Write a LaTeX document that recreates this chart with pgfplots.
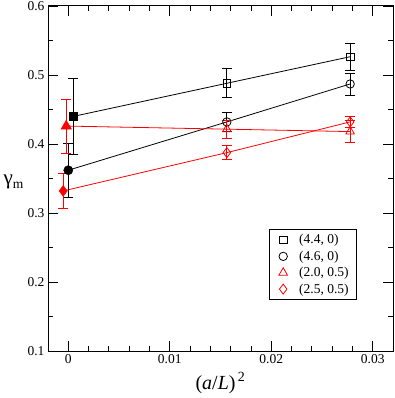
\documentclass[border=0pt]{standalone}
\usepackage{fontspec}
\setmainfont{Liberation Serif}
\usepackage{pgfplots}
\pgfplotsset{compat=1.18}

\begin{document}
\begin{tikzpicture}
\useasboundingbox (0,0) rectangle (395pt,398pt);
\begin{axis}[
  at={(48pt,47pt)}, anchor=south west,
  scale only axis, width=345pt, height=345pt,
  xmin=-0.002, xmax=0.032, ymin=0.1, ymax=0.6,
  xtick={0,0.01,0.02,0.03}, ytick={0.1,0.2,0.3,0.4,0.5,0.6},
  minor x tick num=4, minor y tick num=1,
  tick align=inside, tick pos=both,
  major tick length=10pt, minor tick length=5pt,
  axis line style={line width=1pt}, every tick/.style={line width=0.8pt, black},
  scaled x ticks=false,
  xticklabel style={/pgf/number format/fixed, /pgf/number format/precision=3},
  yticklabel style={/pgf/number format/fixed, /pgf/number format/precision=1,
    /pgf/number format/fixed zerofill},
  /pgf/number format/assume math mode=true,
  tick label style={font=\fontsize{13.5}{15}\selectfont},
  xlabel={(\textit{a}/\textit{L})\textsuperscript{\,2}},
  xlabel style={font=\fontsize{20}{22}\selectfont, at={(axis description cs:0.5,0)}, anchor=north, yshift=-18pt},
  ylabel={γ\raisebox{-0.45ex}{\fontsize{13.5}{13.5}\selectfont m}},
  ylabel style={font=\fontsize{21}{22}\selectfont, rotate=-90, anchor=center, at={(axis description cs:-0.1,0.49)}},
  legend style={at={(0.64,0.148)}, anchor=south west, draw=black, line width=0.8pt,
    font=\fontsize{13.5}{15}\selectfont, row sep=1.5pt, column sep=6pt,
    inner xsep=6pt, inner ysep=3pt},
  legend image code/.code={\path[draw=none, fill=none] (-8pt,-4pt) rectangle (8pt,4pt);
    \draw[#1] plot coordinates {(0pt,0pt)};},
  legend cell align=left,
  error bars/error bar style={line width=0.8pt},
  error bars/error mark options={rotate=90, mark size=5pt, line width=0.8pt},
]
% fit lines
\addplot[black, line width=0.8pt, forget plot] coordinates {(0.0005,0.440) (0.015625,0.488) (0.027778,0.5265)};
\addplot[black, line width=0.8pt, forget plot] coordinates {(0.0,0.362) (0.015625,0.432) (0.027778,0.487)};
\addplot[red, line width=0.8pt, forget plot] coordinates {(-0.0002,0.426) (0.015625,0.4215) (0.027778,0.418)};
\addplot[red, line width=0.8pt, forget plot] coordinates {(-0.0005,0.332) (0.015625,0.3875) (0.027778,0.432)};

% data points
\addplot[black, only marks, mark=square, mark size=3.8pt, mark options={line width=0.8pt},
  error bars/.cd, y dir=both, y explicit] coordinates {
  (0.015625,0.488) +- (0,0.021)
  (0.027778,0.5265) +- (0,0.020)};
\addlegendentry{(4.4, 0)}
\addplot[black, only marks, mark=o, mark size=4.2pt, mark options={line width=0.8pt},
  error bars/.cd, y dir=both, y explicit] coordinates {
  (0.015625,0.432) +- (0,0.014)
  (0.027778,0.487) +- (0,0.016)};
\addlegendentry{(4.6, 0)}
\addplot[red, only marks, mark=triangle, mark size=5pt, mark options={line width=0.8pt},
  error bars/.cd, y dir=both, y explicit] coordinates {
  (0.015625,0.4215) +- (0,0.013)
  (0.027778,0.418) +- (0,0.016)};
\addlegendentry{(2.0, 0.5)}
\addplot[red, only marks, mark=diamond, mark size=5pt, mark options={line width=0.8pt},
  error bars/.cd, y dir=both, y explicit] coordinates {
  (0.015625,0.3875) +- (0,0.010)
  (0.027778,0.432) +- (0,0.008)};
\addlegendentry{(2.5, 0.5)}

% extrapolated points
\addplot[black, only marks, mark=square*, mark size=4.3pt, forget plot,
  error bars/.cd, y dir=both, y explicit] coordinates {(0.0005,0.440) +- (0,0.055)};
\addplot[black, only marks, mark=*, mark size=4.6pt, forget plot,
  error bars/.cd, y dir=both, y explicit] coordinates {(0.0,0.362) +- (0,0.039)};
\addplot[red, only marks, mark=triangle*, mark size=6pt, forget plot,
  error bars/.cd, y dir=both, y explicit] coordinates {(-0.0002,0.426) +- (0,0.039)};
\addplot[red, only marks, mark=diamond*, mark size=5.5pt, forget plot,
  error bars/.cd, y dir=both, y explicit] coordinates {(-0.0005,0.332) +- (0,0.026)};
\end{axis}
\end{tikzpicture}
\end{document}
